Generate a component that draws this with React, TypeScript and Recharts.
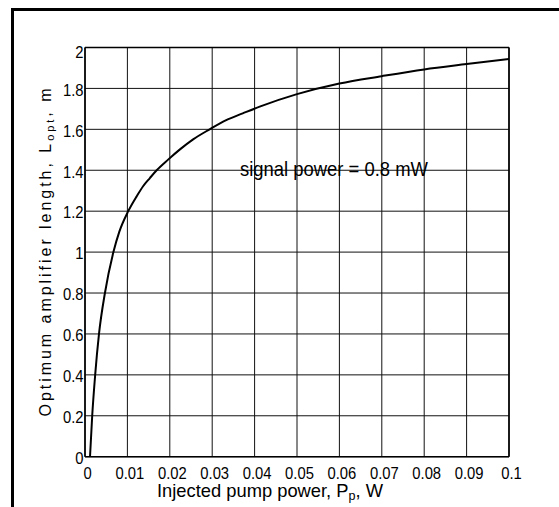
import React from 'react';
import { LineChart, Line, XAxis, YAxis, CartesianGrid, ReferenceLine } from 'recharts';

// Injected pump power (W) against optimum amplifier length (m)
const pumpPower = [
  0.00118, 0.0017, 0.0024, 0.0033, 0.0047, 0.0067, 0.0081, 0.0102, 0.0122, 0.0137, 0.0153, 0.0169,
  0.0196, 0.0224, 0.0255, 0.0294, 0.0333, 0.0372, 0.0412, 0.05, 0.06, 0.07, 0.08, 0.09, 0.1,
];
const optLength = [
  0, 0.2, 0.4, 0.6, 0.8, 1.0, 1.1, 1.2, 1.273, 1.322, 1.362, 1.4,
  1.452, 1.502, 1.551, 1.6, 1.645, 1.678, 1.711, 1.772, 1.824, 1.86, 1.893, 1.919, 1.944,
];

const xTicks = [0, 0.01, 0.02, 0.03, 0.04, 0.05, 0.06, 0.07, 0.08, 0.09, 0.1];
const xTickLabels = ['0', '0.01', '0.02', '0.03', '0.04', '0.05', '0.06', '0.07', '0.08', '0.09', '0.1'];
const yTicks = [0, 0.2, 0.4, 0.6, 0.8, 1, 1.2, 1.4, 1.6, 1.8, 2];
const yTickLabels = ['0', '0.2', '0.4', '0.6', '0.8', '1', '1.2', '1.4', '1.6', '1.8', '2'];

const data = pumpPower.map((p, i) => ({ p, L: optLength[i] }));

const FONT = 'Liberation Sans, Arial, Helvetica, sans-serif';
const W = 559;
const H = 507;

// tick labels use a slightly condensed face
const XTick = ({ x, y, index }: any) => (
  <text
    transform={`translate(${x + 2.5},${y + 22}) scale(0.87,1)`}
    textAnchor="middle"
    fontFamily={FONT}
    fontSize={17}
    fill="#000"
  >
    {xTickLabels[index]}
  </text>
);

const YTick = ({ x, y, index }: any) => {
  // the top label sits a little lower so it stays under the frame
  const dy = index === yTicks.length - 1 ? 10.5 : 7.3;
  return (
    <text
      transform={`translate(${x - 1.5},${y + dy}) scale(0.87,1)`}
      textAnchor="end"
      fontFamily={FONT}
      fontSize={17}
      fill="#000"
    >
      {yTickLabels[index]}
    </text>
  );
};

export default function App() {
  return (
    <div style={{ position: 'absolute', left: 0, top: 0, width: W, height: H, background: '#fff', overflow: 'hidden' }}>
      <div
        style={{
          position: 'absolute',
          left: 11,
          top: 8,
          width: 600,
          height: 600,
          border: '3px solid #000',
        }}
      />
      <div style={{ position: 'absolute', left: 0, top: 0 }}>
        <LineChart
          width={W}
          height={H}
          data={data}
          margin={{ top: 47.5, right: 50, bottom: 20.3, left: 0 }}
        >
          <CartesianGrid stroke="#111" strokeWidth={1} horizontal vertical />
          <XAxis
            dataKey="p"
            type="number"
            domain={[0, 0.1]}
            ticks={xTicks}
            interval={0}
            height={30}
            tickSize={0}
            tickMargin={0}
            tickLine={false}
            axisLine={{ stroke: '#000', strokeWidth: 1.6 }}
            tick={<XTick />}
            allowDataOverflow
          />
          <YAxis
            type="number"
            domain={[0, 2]}
            ticks={yTicks}
            interval={0}
            width={85}
            tickSize={0}
            tickMargin={0}
            tickLine={false}
            axisLine={{ stroke: '#000', strokeWidth: 1.6 }}
            tick={<YTick />}
            allowDataOverflow
          />
          <ReferenceLine x={0.1} stroke="#000" strokeWidth={1.6} />
          <ReferenceLine y={2} stroke="#000" strokeWidth={1.4} />
          <Line
            dataKey="L"
            type="monotone"
            stroke="#000"
            strokeWidth={2}
            dot={false}
            isAnimationActive={false}
          />
        </LineChart>
      </div>
      <svg
        width={W}
        height={H}
        style={{ position: 'absolute', left: 0, top: 0, pointerEvents: 'none' }}
        fontFamily={FONT}
      >
        <text
          transform="translate(50.7,252.5) rotate(-90)"
          textAnchor="middle"
          fontSize={16}
          textLength={328}
          lengthAdjust="spacing"
          fill="#000"
        >
          Optimum amplifier length, L
          <tspan fontSize={11} dy={3}>opt</tspan>
          <tspan dy={-3}>, m</tspan>
        </text>
        <text
          x={157}
          y={497}
          fontSize={19}
          textLength={226}
          lengthAdjust="spacingAndGlyphs"
          fill="#000"
        >
          Injected pump power, P
          <tspan fontSize={13} dy={3}>p</tspan>
          <tspan dy={-3}>, W</tspan>
        </text>
        <text
          x={240}
          y={176}
          fontSize={21}
          textLength={188}
          lengthAdjust="spacingAndGlyphs"
          fill="#000"
        >
          signal power = 0.8 mW
        </text>
      </svg>
    </div>
  );
}
